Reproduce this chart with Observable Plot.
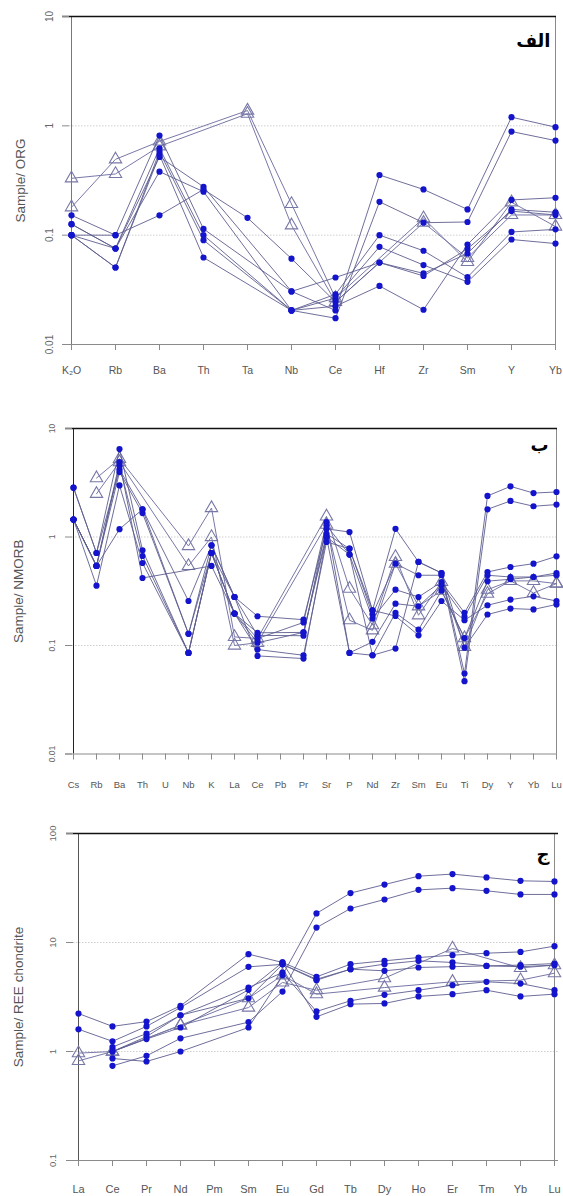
<!DOCTYPE html>
<html><head><meta charset="utf-8">
<script src="https://cdn.jsdelivr.net/npm/d3@7"></script>
<script src="https://cdn.jsdelivr.net/npm/@observablehq/plot@0.6"></script>
<style>
body{margin:0;background:#fff;width:563px;height:1196px;position:relative;overflow:hidden}
.panel{position:absolute;left:0}
</style></head><body>
<div id="p1" class="panel" style="top:0px"></div>
<div id="p2" class="panel" style="top:395px"></div>
<div id="p3" class="panel" style="top:805px"></div>
<script>
// ---------- Panel الف : Sample / ORG ----------
const catsORG = ["K₂O","Rb","Ba","Th","Ta","Nb","Ce","Hf","Zr","Sm","Y","Yb"];
const org1 = [0.152,0.1,0.815,0.114,null,0.0306,0.041,0.0561,0.0447,0.068,0.172,0.162];
const org2 = [0.126,0.0755,0.624,0.1,null,0.0205,0.0288,0.1,0.072,0.0413,0.107,0.113];
const org3 = [0.1,0.0506,0.58,0.09,null,0.0205,0.0266,0.0783,0.0533,0.0374,0.0913,0.0838];
const org4 = [0.1,0.0506,0.542,0.0625,null,0.0205,0.0224,0.0343,0.0208,0.082,0.21,0.22];
const org5 = [0.126,0.0755,0.52,0.277,null,0.0306,0.0205,0.355,0.262,0.172,1.2,0.973];
const org6 = [0.1,0.0755,0.381,0.25,null,0.0205,0.0174,0.202,0.13,0.132,0.887,0.733];
const org7 = [0.1,0.1,0.152,0.262,0.144,0.061,0.0245,0.0561,0.0424,0.075,0.166,0.153];
const orgT1 = [0.18,0.494,0.72,null,1.38,0.193,0.0266,null,0.143,0.057,0.2,0.12];
const orgT2 = [0.331,0.363,0.65,null,1.29,0.123,0.0245,null,0.13,0.062,0.153,0.153];
const ticksORG = [0.01,0.1,1,10];

// ---------- Panel ب : Sample / NMORB ----------
const catsMORB = ["Cs","Rb","Ba","Th","U","Nb","K","La","Ce","Pb","Pr","Sr","P","Nd","Zr","Sm","Eu","Ti","Dy","Y","Yb","Lu"];
const morb1 = [2.85,0.712,6.46,0.754,null,0.0855,0.712,0.28,0.186,null,0.173,1.19,1.11,0.211,1.19,0.589,0.466,0.0552,2.39,2.93,2.54,2.6];
const morb2 = [1.45,0.541,4.57,0.668,null,0.0855,0.712,0.197,0.131,null,0.132,1.07,0.78,0.194,0.568,0.444,0.444,0.0469,1.8,2.15,1.92,1.99];
const morb3 = [2.85,0.712,4.2,1.8,null,0.257,0.838,0.28,0.124,null,0.123,1.28,0.688,0.177,0.327,0.28,0.385,0.2,0.476,0.529,0.568,0.664];
const morb4 = [1.45,0.541,3.97,1.66,null,0.128,0.712,0.197,0.116,null,0.163,1.37,0.0855,0.108,0.243,0.23,0.359,0.184,0.444,0.428,0.428,0.466];
const morb5 = [1.45,0.356,2.99,0.576,null,0.0855,0.712,0.197,0.106,null,0.132,1.0,0.688,0.0813,0.2,0.14,0.32,0.117,0.392,0.408,0.428,0.444];
const morb6 = [1.45,0.541,4.9,0.419,null,null,0.541,0.197,0.0918,null,0.0813,0.9,0.78,0.211,0.187,0.124,0.257,0.171,0.235,0.265,0.284,0.257];
const morb7 = [1.45,0.541,1.18,1.8,null,0.128,0.838,0.28,0.0802,null,0.0758,1.0,0.0855,0.0813,0.0937,0.589,0.466,0.0955,0.193,0.219,0.215,0.239];
const morbT1 = [null,3.49,5.26,null,null,0.826,1.85,0.12,0.116,null,null,1.55,0.334,0.154,0.655,0.19,0.385,0.097,0.327,0.394,0.394,0.372];
const morbT2 = [null,2.5,4.9,null,null,0.541,1.0,0.1,0.106,null,null,1.3,0.171,0.138,0.568,0.23,0.32,0.117,0.3,0.394,0.305,0.372];
const ticksMORB = [0.01,0.1,1,10];

// ---------- Panel ج : Sample / REE chondrite ----------
const catsREE = ["La","Ce","Pr","Nd","Pm","Sm","Eu","Gd","Tb","Dy","Ho","Er","Tm","Yb","Lu"];
const ree1 = [null,0.863,0.81,1.0,null,1.66,5.0,18.5,28.4,34,40.6,42.4,39.5,36.8,36.3];
const ree2 = [null,0.739,0.912,1.32,null,1.86,3.55,13.7,20.5,24.8,30.4,31.5,29.8,27.6,27.6];
const ree3 = [2.23,1.7,1.88,2.62,null,7.82,6.56,4.84,6.33,6.79,7.28,7.65,7.98,8.2,9.26];
const ree4 = [1.6,1.24,1.7,2.53,null,5.98,6.3,4.51,5.69,5.5,5.9,6.0,6.1,6.2,6.41];
const ree5 = [null,1.1,1.46,2.15,null,3.86,5.3,2.33,2.92,3.31,3.65,4.06,4.36,4.2,3.65];
const ree6 = [null,1.0,1.3,1.66,null,3.68,6.56,2.08,2.72,2.76,3.2,3.36,3.65,3.2,3.36];
const ree7 = [null,1.0,1.37,2.15,null,3.08,6.3,4.6,5.69,6.33,6.79,6.56,6.1,6.0,6.2];
const reeT1 = [0.966,1.0,null,1.74,null,2.53,4.3,3.65,null,4.71,null,8.81,null,5.85,6.2];
const reeT2 = [0.82,1.0,null,1.74,null,3.08,5.0,3.36,null,3.86,null,4.36,null,4.51,5.23];
const ticksREE = [0.1,1,10,100];

const LINE = "#5e5e90", TRI = "#7878a8", DOT = "#1414cc";
const FONT = "Liberation Sans, Arial, sans-serif";

function panel(cfg) {
  const rows = [];
  cfg.series.forEach((vals, i) => vals.forEach((v, j) => {
    if (v != null) rows.push({id: i, el: cfg.cats[j], v, tri: cfg.kinds[i] === "t"});
  }));
  const circ = rows.filter(d => !d.tri), tri = rows.filter(d => d.tri);
  const t = cfg.ticks;
  return Plot.plot({
    width: 563, height: cfg.height,
    marginTop: cfg.mt, marginBottom: cfg.mb, marginLeft: cfg.ml, marginRight: cfg.mr,
    style: {fontFamily: FONT, background: "transparent", overflow: "visible"},
    x: {type: "point", domain: cfg.cats, padding: 0},
    y: {type: "log", domain: [t[0], t[t.length - 1]]},
    marks: [
      Plot.ruleY(t.slice(1, -1), {stroke: "#cfcfcf", strokeDasharray: "1.5,1.5"}),
      Plot.ruleX([cfg.cats[0]], {stroke: cfg.leftColor}),
      Plot.ruleX([cfg.cats[cfg.cats.length - 1]], {stroke: "#8a8a8a"}),
      Plot.ruleY([t[0]], {stroke: "#8a8a8a", insetLeft: -7}),
      Plot.ruleY([t[t.length - 1]], {stroke: "#111", strokeWidth: 1.3, insetLeft: -7}),
      Plot.axisY({ticks: t, tickSize: 7, tickPadding: cfg.ytp, tickRotate: -90, tickFormat: d => String(d),
        fontSize: cfg.ytfs, fill: "#666", stroke: "#8a8a8a", label: null}),
      Plot.axisX({tickSize: 6, tickPadding: cfg.xtp, fontSize: cfg.xtfs, fill: "#555", stroke: "#8a8a8a", label: null}),
      Plot.text([cfg.ylabel], {frameAnchor: "left", dx: cfg.yldx, rotate: -90, textAnchor: "middle",
        lineAnchor: "middle", fontSize: 13.5, fill: "#555"}),
      Plot.text([cfg.title], {frameAnchor: "top-right", dx: cfg.tdx, dy: cfg.tdy, textAnchor: "end",
        lineAnchor: "middle", fontSize: 18, fontWeight: "bold", fill: "#000", fontFamily: "DejaVu Sans"}),
      Plot.line(tri, {x: "el", y: "v", z: "id", stroke: TRI, strokeWidth: 1}),
      Plot.dot(tri, {x: "el", y: "v", symbol: "triangle", r: 4.6, stroke: TRI, strokeWidth: 1.1, fill: "none"}),
      Plot.line(circ, {x: "el", y: "v", z: "id", stroke: LINE, strokeWidth: 0.9}),
      Plot.dot(circ, {x: "el", y: "v", r: 3.1, fill: DOT, stroke: "none"})
    ]
  });
}

document.getElementById("p1").append(panel({
  cats: catsORG, series: [org1, org2, org3, org4, org5, org6, org7, orgT1, orgT2],
  kinds: ["c","c","c","c","c","c","c","t","t"], ticks: ticksORG,
  height: 385, mt: 16, mb: 41, ml: 69, mr: 7, leftColor: "#777",
  ytp: 10, ytfs: 10, xtp: 16, xtfs: 10.5, yldx: -49,
  ylabel: "Sample/ ORG", title: "الف", tdx: -6, tdy: 25
}));
document.getElementById("p2").append(panel({
  cats: catsMORB, series: [morb1, morb2, morb3, morb4, morb5, morb6, morb7, morbT1, morbT2],
  kinds: ["c","c","c","c","c","c","c","t","t"], ticks: ticksMORB,
  height: 400, mt: 33, mb: 41.5, ml: 72, mr: 6, leftColor: "#222",
  ytp: 11, ytfs: 8.5, xtp: 21, xtfs: 9.5, yldx: -54,
  ylabel: "Sample/ NMORB", title: "ب", tdx: -9, tdy: 17
}));
document.getElementById("p3").append(panel({
  cats: catsREE, series: [ree1, ree2, ree3, ree4, ree5, ree6, ree7, reeT1, reeT2],
  kinds: ["c","c","c","c","c","c","c","t","t"], ticks: ticksREE,
  height: 391, mt: 28, mb: 36, ml: 73, mr: 5, leftColor: "#555",
  ytp: 11, ytfs: 9.5, xtp: 19, xtfs: 11, yldx: -54.5,
  ylabel: "Sample/ REE chondrite", title: "ج", tdx: -9, tdy: 21
}));
</script>
</body></html>
